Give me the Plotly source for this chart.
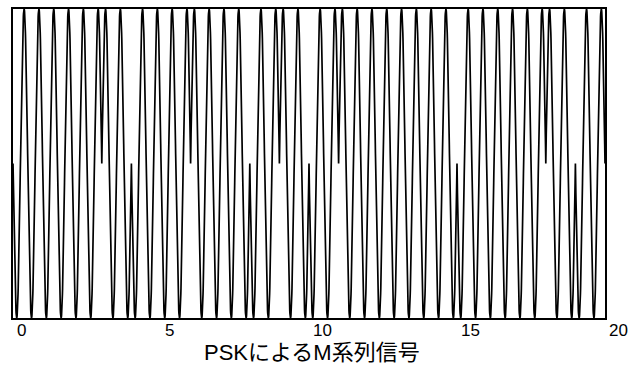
import numpy as np
import plotly.graph_objects as go

# M-sequence chips (1 = phase 0, 0 = phase pi), one chip per time unit
chips = [0, 0, 0, 1, 0, 0, 1, 1, 0, 1, 0, 1, 1, 1, 1, 0, 0, 0, 1, 0]
carrier_freq = 2.0          # cycles per time unit
t_start, t_end = 0.0, 20.0
samples_per_unit = 200
tick_vals = [0, 5, 10, 15, 20]
tick_text = ["0", "5", "10", "15", "20"]
title_text = "PSKによるM系列信号"

t = np.linspace(t_start, t_end, int((t_end - t_start) * samples_per_unit) + 1)
idx = np.clip(np.floor(t).astype(int), 0, len(chips) - 1)
sign = np.where(np.array(chips)[idx] == 1, 1.0, -1.0)
y = sign * np.sin(2 * np.pi * carrier_freq * t)

fig = go.Figure()
fig.add_trace(go.Scatter(x=t, y=y, mode="lines",
                         line=dict(color="black", width=1.7),
                         hoverinfo="skip", showlegend=False))

fig.update_layout(
    width=643, height=369,
    margin=dict(l=13, r=38, t=7, b=51),
    paper_bgcolor="white", plot_bgcolor="white",
    font=dict(family="Liberation Sans, Noto Sans CJK JP", color="black"),
)
fig.update_xaxes(range=[t_start, t_end], showgrid=False, zeroline=False,
                 showline=True, linecolor="black", linewidth=2, mirror=True,
                 ticks="", showticklabels=False)
fig.update_yaxes(range=[-1, 1], showgrid=False, zeroline=False,
                 showline=True, linecolor="black", linewidth=2, mirror=True,
                 ticks="", showticklabels=False)

# left-aligned tick labels as in the reference print
for v, txt in zip(tick_vals, tick_text):
    fig.add_annotation(x=v, y=-0.042, xref="x", yref="paper",
                       text=txt, showarrow=False, xanchor="left", yanchor="middle",
                       xshift=2, font=dict(size=17, family="Liberation Sans"))

fig.add_annotation(x=0.505, y=-0.1125, xref="paper", yref="paper",
                   text=title_text, showarrow=False, xanchor="center", yanchor="middle",
                   font=dict(size=22, family="Liberation Sans, Noto Sans CJK JP"))

fig.write_html("out.html")
